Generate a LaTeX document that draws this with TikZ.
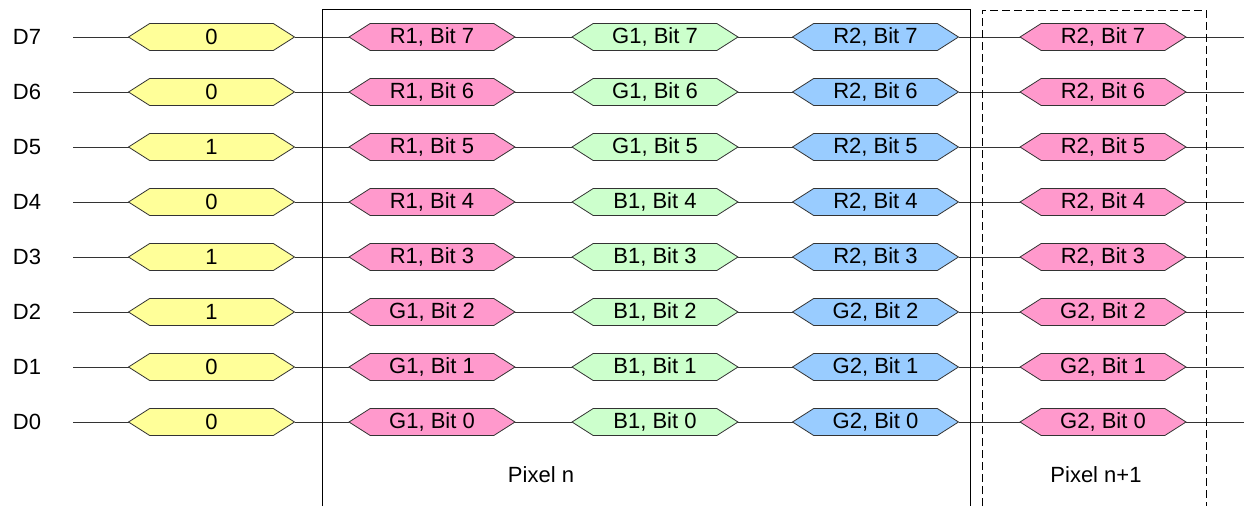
\documentclass[tikz,border=0pt]{standalone}
\usepackage{fontspec}
\setmainfont{Liberation Sans}
\usetikzlibrary{
  shapes.symbols,
  positioning,
}

\begin{document}
\begin{tikzpicture}[
    x = 1pt,
    y = -1pt,
    h/.style={
      signal, signal to=west and east, signal pointer angle=65,
      draw=black!80, line width=0.8pt,
      minimum width=166pt, minimum height=27pt,
      inner sep=0pt, outer sep=0pt, font=\fontsize{22}{22}\selectfont,
    },
    l/.style={font=\fontsize{22}{22}\selectfont},
    w/.style={draw=black!80, line width=0.9pt},]
  \useasboundingbox (0,0) rectangle (1244,506);
  %%
  \foreach \i/\v/\a/\b/\c in {
    7/0/R1/G1/R2, 6/0/R1/G1/R2, 5/1/R1/G1/R2, 4/0/R1/B1/R2,
    3/1/R1/B1/R2, 2/1/G1/B1/G2, 1/0/G1/B1/G2, 0/0/G1/B1/G2}{
    \node[l] (D\i) at (27, 37+55*7-55*\i) {D\i};
    \coordinate (S\i) at (73, 37+55*7-55*\i);
    \coordinate (E\i) at (1244, 37+55*7-55*\i);
    \node[h, fill={rgb,255:red,255;green,255;blue,153}]
    (Y\i) at (211.5, 37+55*7-55*\i) {\v};
    \node[h, fill={rgb,255:red,255;green,153;blue,204}]
    (P\i) at (432, 37+55*7-55*\i) {\a, Bit \i};
    \node[h, fill={rgb,255:red,204;green,255;blue,204}]
    (G\i) at (655, 37+55*7-55*\i) {\b, Bit \i};
    \node[h, fill={rgb,255:red,153;green,204;blue,255}]
    (B\i) at (875.5, 37+55*7-55*\i) {\c, Bit \i};
    \node[h, fill={rgb,255:red,255;green,153;blue,204}]
    (Q\i) at (1103, 37+55*7-55*\i) {\c, Bit \i};
    %%
    \draw[w] (S\i) -- (Y\i.west);
    \draw[w] (Y\i.east) -- (P\i.west);
    \draw[w] (P\i.east) -- (G\i.west);
    \draw[w] (G\i.east) -- (B\i.west);
    \draw[w] (B\i.east) -- (Q\i.west);
    \draw[w] (Q\i.east) -- (E\i);
  }
  %%
  \draw[line width=1pt] (322,506) -- (322,9) -- (970,9) -- (970,506);
  \draw[line width=1pt, dash pattern=on 8pt off 4pt]
  (982,506) -- (982,10) -- (1206,10) -- (1206,506);
  %%
  \node[l] (PixN) at (541,475) {Pixel n};
  \node[l] (PixN1) at (1096,475) {Pixel n+1};
\end{tikzpicture}
\end{document}
